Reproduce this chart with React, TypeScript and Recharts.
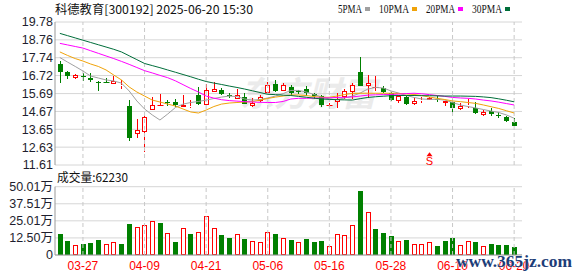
import React from 'react';
import {
  ComposedChart,
  Bar,
  Line,
  XAxis,
  YAxis,
  CartesianGrid,
  ReferenceLine,
  ReferenceDot,
} from 'recharts';

// 科德教育 300192, daily K line 2025-03-24 .. 2025-06-20
const dates = [
  '03-24', '03-25', '03-26', '03-27', '03-28', '03-31', '04-01', '04-02', '04-03', '04-07',
  '04-08', '04-09', '04-10', '04-11', '04-14', '04-15', '04-16', '04-17', '04-18', '04-21',
  '04-22', '04-23', '04-24', '04-25', '04-28', '04-29', '04-30', '05-06', '05-07', '05-08',
  '05-09', '05-12', '05-13', '05-14', '05-15', '05-16', '05-19', '05-20', '05-21', '05-22',
  '05-23', '05-26', '05-27', '05-28', '05-29', '05-30', '06-03', '06-04', '06-05', '06-06',
  '06-09', '06-10', '06-11', '06-12', '06-13', '06-16', '06-17', '06-18', '06-19', '06-20',
];

const open = [
  17.40, 16.91, 16.59, 16.70, 16.57, 16.37, 16.36, 16.25, 16.12, 15.00,
  13.36, 13.48, 14.76, 15.03, 15.20, 15.21, 14.95, 14.95, 15.59, 15.06,
  15.79, 15.89, 15.61, 15.40, 15.48, 14.99, 15.29, 15.71, 16.25, 15.86,
  16.08, 15.82, 15.97, 15.65, 15.56, 15.03, 15.21, 15.52, 15.78, 16.91,
  16.12, 16.06, 16.03, 15.71, 15.27, 15.48, 15.10, 15.29, 15.33, 15.37,
  15.14, 15.21, 14.80, 14.99, 14.89, 14.46, 14.71, 14.44, 14.37, 14.08,
];
const high = [
  17.55, 16.97, 16.83, 16.87, 16.84, 16.40, 16.59, 16.68, 16.44, 15.31,
  14.23, 14.42, 15.52, 15.65, 15.34, 15.36, 15.59, 15.31, 16.04, 16.22,
  16.37, 15.99, 15.74, 15.93, 15.70, 15.44, 15.59, 16.38, 16.46, 16.31,
  16.20, 15.90, 16.12, 15.71, 15.59, 15.14, 15.74, 15.93, 16.27, 17.76,
  16.78, 16.69, 16.12, 15.78, 15.59, 15.59, 15.44, 15.52, 15.48, 15.55,
  15.29, 15.37, 15.18, 15.37, 15.21, 14.76, 14.84, 14.61, 14.42, 14.27,
];
const low = [
  16.30, 16.50, 16.55, 16.40, 16.37, 15.84, 16.30, 16.25, 15.93, 12.96,
  13.14, 12.38, 14.76, 15.02, 15.00, 14.95, 14.95, 14.84, 15.03, 15.06,
  15.79, 15.59, 15.44, 15.36, 15.08, 14.95, 15.21, 15.71, 15.78, 15.82,
  15.63, 15.65, 15.56, 15.37, 14.95, 14.91, 14.89, 15.40, 15.37, 16.10,
  15.46, 15.84, 15.74, 15.29, 15.18, 15.06, 15.03, 15.14, 15.33, 15.20,
  14.99, 14.57, 14.76, 14.87, 14.50, 14.42, 14.42, 14.27, 14.04, 13.86,
];
const close = [
  16.90, 16.69, 16.78, 16.66, 16.44, 16.27, 16.33, 16.40, 16.16, 13.14,
  13.61, 14.38, 15.06, 15.05, 15.14, 15.03, 15.06, 14.98, 15.08, 15.92,
  15.95, 15.65, 15.57, 15.59, 15.12, 15.18, 15.52, 16.20, 15.84, 16.20,
  15.74, 15.80, 15.71, 15.56, 15.03, 15.05, 15.37, 15.86, 16.16, 16.12,
  16.27, 16.08, 15.78, 15.33, 15.55, 15.10, 15.29, 15.31, 15.44, 15.33,
  15.27, 14.87, 14.99, 15.01, 14.57, 14.63, 14.52, 14.42, 14.10, 13.86,
];

const ma5 = [
  17.75, 17.49, 17.24, 16.98, 16.69, 16.58, 16.47, 16.41, 16.29, 15.84,
  15.27, 14.81, 14.47, 14.18, 14.52, 14.89, 15.09, 15.18, 15.24, 15.32,
  15.41, 15.49, 15.55, 15.52, 15.38, 15.32, 15.35, 15.44, 15.55, 15.69,
  15.87, 15.87, 15.78, 15.64, 15.49, 15.38, 15.35, 15.44, 15.55, 15.72,
  15.95, 16.04, 16.01, 15.84, 15.72, 15.58, 15.47, 15.38, 15.36, 15.36,
  15.32, 15.18, 15.04, 14.95, 14.87, 14.78, 14.69, 14.61, 14.47, 14.28,
];
const ma10 = [
  18.07, 17.87, 17.69, 17.55, 17.38, 17.24, 17.04, 16.75, 16.47, 16.07,
  15.78, 15.55, 15.32, 15.21, 15.09, 14.98, 14.81, 14.64, 14.58, 14.75,
  14.95, 15.09, 15.15, 15.18, 15.21, 15.23, 15.32, 15.41, 15.49, 15.55,
  15.61, 15.61, 15.58, 15.52, 15.48, 15.48, 15.55, 15.64, 15.70, 15.71,
  15.71, 15.71, 15.71, 15.71, 15.70, 15.67, 15.64, 15.58, 15.49, 15.42,
  15.35, 15.27, 15.23, 15.18, 15.13, 15.04, 14.94, 14.84, 14.71, 14.58,
];
const ma20 = [
  18.56, 18.47, 18.38, 18.29, 18.14, 17.99, 17.84, 17.69, 17.53, 17.36,
  17.18, 17.00, 16.87, 16.73, 16.60, 16.42, 16.20, 15.98, 15.78, 15.55,
  15.43, 15.34, 15.29, 15.26, 15.23, 15.21, 15.19, 15.18, 15.18, 15.24,
  15.38, 15.42, 15.42, 15.43, 15.44, 15.45, 15.47, 15.48, 15.50, 15.55,
  15.60, 15.62, 15.63, 15.64, 15.66, 15.69, 15.71, 15.68, 15.63, 15.58,
  15.53, 15.47, 15.44, 15.42, 15.38, 15.32, 15.27, 15.20, 15.12, 15.04,
];
const ma30 = [
  19.13, 19.00, 18.87, 18.74, 18.61, 18.48, 18.35, 18.22, 18.07, 17.85,
  17.63, 17.41, 17.29, 17.17, 17.04, 16.91, 16.78, 16.65, 16.51, 16.38,
  16.29, 16.21, 16.12, 16.04, 15.95, 15.85, 15.75, 15.65, 15.63, 15.60,
  15.58, 15.53, 15.48, 15.43, 15.38, 15.36, 15.34, 15.33, 15.32, 15.40,
  15.47, 15.51, 15.54, 15.57, 15.58, 15.58, 15.58, 15.57, 15.57, 15.56,
  15.55, 15.55, 15.55, 15.54, 15.53, 15.50, 15.46, 15.39, 15.31, 15.22,
];

// 成交量, in 万 shares
const volume = [
  15.1, 10.2, 7.1, 8.0, 8.8, 11.0, 7.8, 9.3, 7.8, 22.7,
  20.2, 21.7, 24.6, 23.4, 15.9, 9.5, 19.5, 15.1, 16.6, 28.3,
  19.5, 14.6, 12.4, 15.1, 11.7, 10.0, 9.3, 16.6, 15.4, 12.2,
  11.0, 9.5, 11.7, 9.5, 10.2, 6.6, 15.1, 14.4, 22.0, 46.8,
  31.5, 19.0, 16.1, 13.9, 10.2, 11.0, 7.8, 7.8, 9.3, 6.6,
  10.2, 12.4, 7.3, 10.0, 9.5, 6.6, 8.0, 7.6, 7.3, 6.223,
];
// 1 = red (close above previous close), 0 = green
const volUp = [
  0, 0, 1, 0, 0, 0, 1, 1, 0, 0,
  1, 1, 1, 0, 1, 0, 1, 0, 1, 1,
  1, 0, 0, 1, 0, 1, 1, 1, 0, 1,
  0, 1, 0, 0, 0, 1, 1, 1, 1, 0,
  1, 0, 0, 0, 1, 0, 1, 1, 1, 0,
  0, 0, 1, 1, 0, 1, 0, 0, 0, 0,
];

const priceTicks = [11.61, 12.63, 13.65, 14.67, 15.69, 16.72, 17.74, 18.76, 19.78];
const volTicks = [0, 12.5, 25.01, 37.51, 50.01];
const dateTicks = ['03-27', '04-09', '04-21', '05-06', '05-16', '05-28', '06-10', '06-20'];
const maNames = ['5PMA', '10PMA', '20PMA', '30PMA'];
const signals = [{ date: '06-05', price: 12.0, label: 'S' }];

const title = '科德教育[300192] 2025-06-20 15:30';
const volTitle = '成交量:62230';

const RED = '#ff0000';
const GREEN = '#008000';
const MA_COLORS = ['#a0a0a0', '#f0a30a', '#ff00ff', '#006e3a'];
const BORDER = '#999999';
const GRID = '#d6d6d6';
const FONT = '"Liberation Sans", Arial, "Noto Sans CJK SC", sans-serif';
const CJK = '"Noto Sans CJK SC", "Liberation Sans", sans-serif';

const rows = dates.map((d, i) => ({
  date: d,
  o: open[i],
  h: high[i],
  l: low[i],
  c: close[i],
  ma5: ma5[i],
  ma10: ma10[i],
  ma20: ma20[i],
  ma30: ma30[i],
  vol: volume[i],
  up: volUp[i],
}));

const Candle = (props: any) => {
  const { x, y, width, height, payload } = props;
  const { o, h, l, c } = payload;
  const color = c >= o ? RED : GREEN;
  const k = h > l ? height / (h - l) : 0;
  const py = (v: number) => y + (h - v) * k;
  const cx = Math.round(x + width / 2) + 0.5;
  const top = Math.round(py(Math.max(o, c)));
  const bot = Math.round(py(Math.min(o, c)));
  const yh = Math.round(py(h));
  const yl = Math.round(py(l));
  if (bot - top < 1) {
    return (
      <g>
        <line x1={cx} x2={cx} y1={yh} y2={yl} stroke={color} />
        <line x1={cx - 3} x2={cx + 3} y1={top + 0.5} y2={top + 0.5} stroke={color} />
      </g>
    );
  }
  if (c >= o) {
    return (
      <g>
        <line x1={cx} x2={cx} y1={yh} y2={top} stroke={color} />
        <line x1={cx} x2={cx} y1={bot} y2={yl} stroke={color} />
        <rect x={cx - 2} y={top + 0.5} width={4} height={bot - top - 1} fill="#fff" stroke={color} />
      </g>
    );
  }
  return (
    <g>
      <line x1={cx} x2={cx} y1={yh} y2={yl} stroke={color} />
      <rect x={cx - 2.5} y={top} width={5} height={bot - top} fill={color} />
    </g>
  );
};

const VolBar = (props: any) => {
  const { x, y, width, height, payload } = props;
  const cx = Math.round(x + width / 2);
  const top = Math.round(y);
  const bot = Math.round(y + height);
  if (payload.up) {
    return (
      <rect x={cx - 2 + 0.5} y={top + 0.5} width={4} height={bot - top - 1} fill="#fff" stroke={RED} />
    );
  }
  return <rect x={cx - 2} y={top} width={5} height={bot - top} fill={GREEN} />;
};

const SignalMark = (props: any) => {
  const { cx, cy, label } = props;
  const x = Math.round(cx) + 0.5;
  return (
    <g>
      <path d={`M${x} ${cy - 6} L${x - 3} ${cy - 2} L${x + 3} ${cy - 2} Z`} fill={RED} />
      <text x={x} y={cy + 7} textAnchor="middle" fontSize={11} fill={RED} fontFamily={FONT}>
        {label}
      </text>
    </g>
  );
};

const legendX = [338, 379, 426, 472];
const legendW = [24, 30, 29, 30];

export default function App() {
  return (
    <div
      style={{
        position: 'absolute',
        left: 0,
        top: 0,
        width: 578,
        height: 276,
        background: '#fff',
        overflow: 'hidden',
      }}
    >
      <svg width={578} height={276} style={{ position: 'absolute', left: 0, top: 0 }}>
        <text
          x={240}
          y={106}
          fontSize={34}
          fontStyle="italic"
          fontWeight="bold"
          fill="#ebebeb"
          fontFamily={CJK}
        >
          东方财富
        </text>
      </svg>

      <div style={{ position: 'absolute', left: 0, top: 0 }}>
        <ComposedChart
          width={578}
          height={173}
          data={rows}
          margin={{ top: 22, right: 56, left: 0, bottom: 8 }}
        >
          <CartesianGrid vertical={false} stroke={GRID} />
          <XAxis
            dataKey="date"
            height={0}
            tick={false}
            tickLine={false}
            axisLine={{ stroke: BORDER }}
            padding={{ left: 1, right: 4 }}
          />
          <XAxis
            xAxisId="top"
            orientation="top"
            dataKey="date"
            height={0}
            tick={false}
            tickLine={false}
            axisLine={{ stroke: BORDER }}
          />
          <YAxis
            domain={[11.61, 19.78]}
            ticks={priceTicks}
            interval={0}
            width={55}
            tickSize={0}
            tickMargin={2}
            axisLine={{ stroke: BORDER }}
            tickFormatter={(v: number) => v.toFixed(2)}
            tick={{ fill: '#1e1e2e', fontSize: 12.5, fontFamily: FONT }}
          />
          <YAxis
            yAxisId="r"
            orientation="right"
            domain={[11.61, 19.78]}
            width={0}
            tick={false}
            tickLine={false}
            axisLine={{ stroke: BORDER }}
          />
          {dateTicks.map(d => (
            <ReferenceLine key={d} x={d} stroke="#c8c8c8" strokeDasharray="4 3" />
          ))}
          <Bar
            dataKey={(d: any) => [d.l, d.h]}
            barSize={5}
            shape={Candle}
            isAnimationActive={false}
          />
          {['ma5', 'ma10', 'ma20', 'ma30'].map((k, i) => (
            <Line
              key={k}
              dataKey={k}
              type="linear"
              stroke={MA_COLORS[i]}
              strokeWidth={1}
              dot={false}
              activeDot={false}
              isAnimationActive={false}
            />
          ))}
          {signals.map(s => (
            <ReferenceDot
              key={s.date}
              x={s.date}
              y={s.price}
              ifOverflow="visible"
              shape={(p: any) => <SignalMark {...p} label={s.label} />}
            />
          ))}
        </ComposedChart>
      </div>

      <div style={{ position: 'absolute', left: 0, top: 165 }}>
        <ComposedChart
          width={578}
          height={111}
          data={rows}
          margin={{ top: 21.7, right: 56, left: 0, bottom: 0 }}
        >
          <CartesianGrid vertical={false} stroke={GRID} />
          <XAxis
            dataKey="date"
            height={21}
            ticks={dateTicks}
            interval={0}
            tickSize={0}
            tickMargin={6}
            axisLine={{ stroke: BORDER }}
            padding={{ left: 1, right: 4 }}
            tick={{ fill: RED, fontSize: 12, fontFamily: FONT }}
          />
          <XAxis
            xAxisId="top"
            orientation="top"
            dataKey="date"
            height={0}
            tick={false}
            tickLine={false}
            axisLine={{ stroke: BORDER }}
          />
          <YAxis
            domain={[0, 50.01]}
            ticks={volTicks}
            interval={0}
            width={55}
            tickSize={0}
            tickMargin={2}
            axisLine={{ stroke: BORDER }}
            tickFormatter={(v: number) => (v === 0 ? '0' : `${v.toFixed(2)}万`)}
            tick={{ fill: '#1e1e2e', fontSize: 12.5, fontFamily: FONT }}
          />
          <YAxis
            yAxisId="r"
            orientation="right"
            domain={[0, 50.01]}
            width={0}
            tick={false}
            tickLine={false}
            axisLine={{ stroke: BORDER }}
          />
          {dateTicks.map(d => (
            <ReferenceLine key={d} x={d} stroke="#c8c8c8" strokeDasharray="4 3" />
          ))}
          <Bar dataKey="vol" barSize={5} shape={VolBar} isAnimationActive={false} />
        </ComposedChart>
      </div>

      <svg
        width={578}
        height={276}
        style={{ position: 'absolute', left: 0, top: 0, pointerEvents: 'none' }}
      >
        <text
          x={55}
          y={13.5}
          fontSize={12}
          fill="#111"
          fontFamily={CJK}
          textLength={198}
          lengthAdjust="spacingAndGlyphs"
        >
          {title}
        </text>
        {maNames.map((n, i) => (
          <g key={n}>
            <text
              x={legendX[i]}
              y={13}
              fontSize={12}
              fill="#111"
              fontFamily='"Liberation Serif", serif'
              textLength={legendW[i]}
              lengthAdjust="spacingAndGlyphs"
            >
              {n}
            </text>
            <rect x={legendX[i] + legendW[i] + 3} y={7} width={5} height={4} fill={MA_COLORS[i]} />
          </g>
        ))}
        <text
          x={57}
          y={182}
          fontSize={12}
          fill="#111"
          fontFamily={CJK}
          textLength={71}
          lengthAdjust="spacingAndGlyphs"
        >
          {volTitle}
        </text>
        <text
          x={456}
          y={267}
          fontSize={16}
          fontWeight="bold"
          fill="#1d3d78"
          stroke="#fff"
          strokeWidth={0.6}
          paintOrder="stroke"
          fontFamily='"Liberation Serif", serif'
          textLength={116}
          lengthAdjust="spacingAndGlyphs"
        >
          www.365jz.com
        </text>
      </svg>
    </div>
  );
}
